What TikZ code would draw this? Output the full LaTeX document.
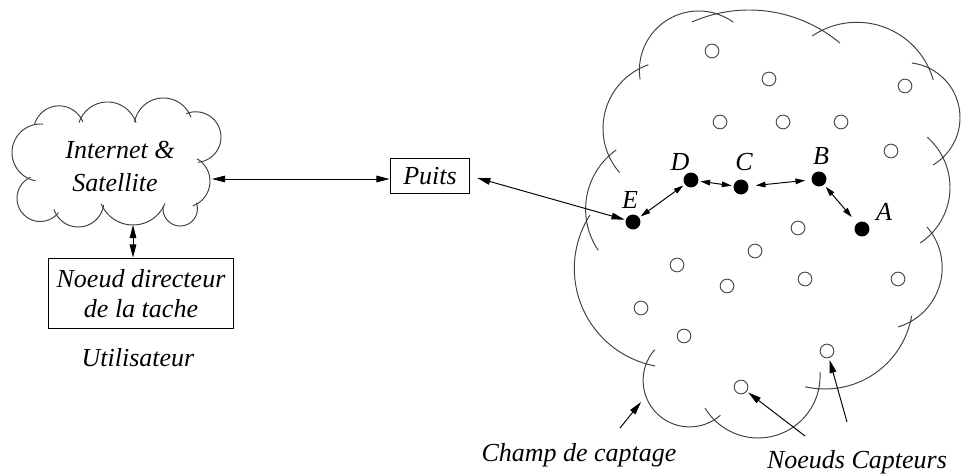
\documentclass[tikz,border=0pt]{standalone}
\usepackage{fontspec}
\setmainfont{Liberation Serif}
\usetikzlibrary{arrows.meta}

% one bump of a cloud outline: centre x, centre y, radius, from angle, to angle
\newcommand{\cloudarc}[5]{%
  \draw[cloudline] plot[domain=#4:#5, samples=40, smooth, variable=\t]
    ({#1+#3*cos(\t)},{#2+#3*sin(\t)});}

\begin{document}
\begin{tikzpicture}[x=0.02cm, y=-0.02cm,
  cloudline/.style={draw=black!75, line width=0.55pt},
  every node/.style={font=\fontsize{14.8}{17.5}\selectfont\itshape},
  box/.style={draw, line width=0.6pt, inner sep=0pt},
  sensor/.style={circle, draw=black!70, line width=0.55pt, minimum size=7.8pt, inner sep=0pt},
  relay/.style={circle, fill=black, minimum size=8.5pt, inner sep=0pt},
  link/.style={line width=0.55pt, {Triangle[length=5.5pt,width=3.2pt]}-{Triangle[length=5.5pt,width=3.2pt]}},
  biglink/.style={line width=0.55pt, {Triangle[length=7.5pt,width=3.8pt]}-{Triangle[length=7.5pt,width=3.8pt]}},
  bigarrow/.style={line width=0.55pt, -{Triangle[length=7.5pt,width=3.8pt]}},
]
\useasboundingbox (0,0) rectangle (963,475);

% ---- Internet & Satellite cloud
\cloudarc{40.6}{152.6}{28.6}{100}{275}
\cloudarc{59.1}{131.5}{25.6}{195}{338}
\cloudarc{107.5}{132}{30}{198}{342}
\cloudarc{163.4}{127.3}{29.3}{190}{340}
\cloudarc{195.7}{137.1}{25.3}{-112}{85}
\cloudarc{183.9}{181.3}{26.1}{-60}{70}
\cloudarc{180.2}{208.8}{17.2}{-20}{190}
\cloudarc{133}{190.5}{34.5}{22}{157}
\cloudarc{78.3}{201.4}{25.6}{8}{162}
\cloudarc{40.2}{198.3}{23.2}{38}{245}
\node (inet1) at (120,150) {Internet \&};
\node (inet2) at (115,183) {Satellite};
\coordinate (inetE) at (212,179);
\coordinate (inetS) at (133,225);

% ---- sensing field cloud
\cloudarc{698.6}{70.2}{59.2}{171}{306}
\cloudarc{670.3}{128.4}{67.3}{139}{251}
\cloudarc{658.4}{209.3}{72.8}{145.6}{234.6}
\cloudarc{673.5}{268.5}{99.2}{100.7}{212.6}
\cloudarc{689.6}{380.4}{46.5}{48.6}{221.5}
\cloudarc{758.1}{376}{62}{-3.7}{149}
\cloudarc{824.9}{301}{88}{9.8}{103}
\cloudarc{880.2}{267.6}{62}{-41}{73}
\cloudarc{883.3}{187.4}{66.7}{-48.7}{56.5}
\cloudarc{905}{117.6}{55}{-82.7}{59.2}
\cloudarc{856.8}{101.8}{79.5}{236}{344}
\cloudarc{749}{151.6}{141.6}{246.3}{309.9}

% ---- boxes and labels
\node[box, minimum width=45.4pt, minimum height=20.4pt] (puits) at (430,176) {Puits};
\node[box, minimum width=105.4pt, minimum height=40.3pt, align=center] (dir) at (141,293.5) {Noeud directeur\\de la tache};
\node (user) at (138,358) {Utilisateur};

\draw[biglink] (inetE) -- (inetE -| puits.west);
\draw[biglink] (inetS) -- (inetS |- dir.north);

% ---- sensors
\foreach \n/\p in {1/{712,51}, 2/{769,79}, 3/{905,86}, 4/{720,122}, 5/{783,122},
                   6/{841,122}, 7/{891,151}, 8/{798,228}, 9/{755,251}, 10/{677,265},
                   11/{727,286}, 12/{805,279}, 13/{898,279}, 14/{641,308}, 15/{684,336},
                   16/{827,351}, 17/{741,387}}
  \node[sensor] (s\n) at (\p) {};

% ---- relay path
\node[relay] (E) at (633,222) {};
\node[relay] (D) at (691,180) {};
\node[relay] (C) at (741,187) {};
\node[relay] (B) at (819,179) {};
\node[relay] (A) at (862,229) {};
\node (lE) at (630,200) {E};
\node (lD) at (680,162) {D};
\node (lC) at (744,162) {C};
\node (lB) at (821,156) {B};
\node (lA) at (884,212) {A};

\draw[biglink, shorten <=4pt, shorten >=0.5pt] (puits.east) -- (E);
\draw[link, shorten <=1pt, shorten >=1pt] (E) -- (D);
\draw[link, shorten <=1pt, shorten >=1pt] (D) -- (C);
\draw[link, shorten <=4pt, shorten >=3.5pt] (C) -- (B);
\draw[link, shorten <=1.5pt, shorten >=4.5pt] (B) -- (A);

% ---- captions
\node (champ) at (579,455) {Champ de captage};
\node (capt) at (857,462) {Noeuds Capteurs};
\coordinate (champTail) at (620,428);
\coordinate (champTip) at (641,402);
\coordinate (captTailA) at (805,436);
\coordinate (captTailB) at (847,422);
\draw[bigarrow] (champTail) -- (champTip);
\draw[bigarrow, shorten >=1pt] (captTailA) -- (s17);
\draw[bigarrow, shorten >=1pt] (captTailB) -- (s16);
\end{tikzpicture}
\end{document}
